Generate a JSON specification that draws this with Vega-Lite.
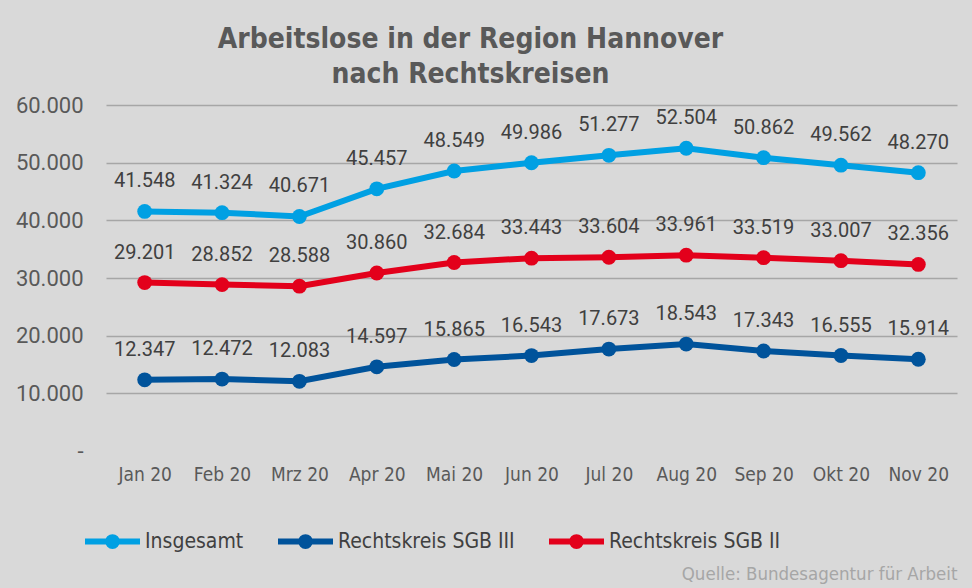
{
  "$schema": "https://vega.github.io/schema/vega-lite/v6.json",
  "width": 851,
  "height": 346,
  "autosize": {"type": "none"},
  "padding": {"left": 106, "top": 105, "right": 15, "bottom": 137},
  "background": "#d9d9d9",
  "config": {
    "view": {"stroke": null},
    "locale": {"number": {"decimal": ",", "thousands": ".", "grouping": [3], "currency": ["", " €"]}}
  },
  "title": {
    "text": ["Arbeitslose in der Region Hannover", "nach Rechtskreisen"],
    "font": "'DejaVu Sans Condensed', 'Liberation Sans', sans-serif",
    "fontSize": 28,
    "fontWeight": "bold",
    "color": "#595959",
    "anchor": "middle",
    "dx": -61,
    "offset": 5,
    "lineHeight": 35
  },
  "data": {"values": [
    {"monat": "Jan 20", "reihe": "Insgesamt", "wert": 41548},
    {"monat": "Feb 20", "reihe": "Insgesamt", "wert": 41324},
    {"monat": "Mrz 20", "reihe": "Insgesamt", "wert": 40671},
    {"monat": "Apr 20", "reihe": "Insgesamt", "wert": 45457},
    {"monat": "Mai 20", "reihe": "Insgesamt", "wert": 48549},
    {"monat": "Jun 20", "reihe": "Insgesamt", "wert": 49986},
    {"monat": "Jul 20", "reihe": "Insgesamt", "wert": 51277},
    {"monat": "Aug 20", "reihe": "Insgesamt", "wert": 52504},
    {"monat": "Sep 20", "reihe": "Insgesamt", "wert": 50862},
    {"monat": "Okt 20", "reihe": "Insgesamt", "wert": 49562},
    {"monat": "Nov 20", "reihe": "Insgesamt", "wert": 48270},
    {"monat": "Jan 20", "reihe": "Rechtskreis SGB III", "wert": 12347},
    {"monat": "Feb 20", "reihe": "Rechtskreis SGB III", "wert": 12472},
    {"monat": "Mrz 20", "reihe": "Rechtskreis SGB III", "wert": 12083},
    {"monat": "Apr 20", "reihe": "Rechtskreis SGB III", "wert": 14597},
    {"monat": "Mai 20", "reihe": "Rechtskreis SGB III", "wert": 15865},
    {"monat": "Jun 20", "reihe": "Rechtskreis SGB III", "wert": 16543},
    {"monat": "Jul 20", "reihe": "Rechtskreis SGB III", "wert": 17673},
    {"monat": "Aug 20", "reihe": "Rechtskreis SGB III", "wert": 18543},
    {"monat": "Sep 20", "reihe": "Rechtskreis SGB III", "wert": 17343},
    {"monat": "Okt 20", "reihe": "Rechtskreis SGB III", "wert": 16555},
    {"monat": "Nov 20", "reihe": "Rechtskreis SGB III", "wert": 15914},
    {"monat": "Jan 20", "reihe": "Rechtskreis SGB II", "wert": 29201},
    {"monat": "Feb 20", "reihe": "Rechtskreis SGB II", "wert": 28852},
    {"monat": "Mrz 20", "reihe": "Rechtskreis SGB II", "wert": 28588},
    {"monat": "Apr 20", "reihe": "Rechtskreis SGB II", "wert": 30860},
    {"monat": "Mai 20", "reihe": "Rechtskreis SGB II", "wert": 32684},
    {"monat": "Jun 20", "reihe": "Rechtskreis SGB II", "wert": 33443},
    {"monat": "Jul 20", "reihe": "Rechtskreis SGB II", "wert": 33604},
    {"monat": "Aug 20", "reihe": "Rechtskreis SGB II", "wert": 33961},
    {"monat": "Sep 20", "reihe": "Rechtskreis SGB II", "wert": 33519},
    {"monat": "Okt 20", "reihe": "Rechtskreis SGB II", "wert": 33007},
    {"monat": "Nov 20", "reihe": "Rechtskreis SGB II", "wert": 32356}
  ]},
  "encoding": {
    "x": {
      "field": "monat",
      "type": "ordinal",
      "sort": ["Jan 20", "Feb 20", "Mrz 20", "Apr 20", "Mai 20", "Jun 20", "Jul 20", "Aug 20", "Sep 20", "Okt 20", "Nov 20"],
      "scale": {"type": "point", "padding": 0.5},
      "axis": {
        "title": "Quelle: Bundesagentur für Arbeit",
        "titleFont": "'DejaVu Sans Condensed', 'Liberation Sans', sans-serif",
        "titleFontSize": 18.5,
        "titleFontWeight": "normal",
        "titleColor": "#a6a6a6",
        "titleAnchor": "end",
        "titleAlign": "right",
        "titleX": 851,
        "titleY": 122,
        "titleBaseline": "middle",
        "labelAngle": 0,
        "domain": false,
        "ticks": false,
        "grid": false,
        "labelFont": "'DejaVu Sans Condensed', 'Liberation Sans', sans-serif",
        "labelFontSize": 19,
        "labelColor": "#595959",
        "labelPadding": 14
      }
    },
    "y": {
      "field": "wert",
      "type": "quantitative",
      "scale": {"domain": [0, 60000], "nice": false},
      "axis": {
        "title": null,
        "values": [0, 10000, 20000, 30000, 40000, 50000, 60000],
        "labelExpr": "datum.value == 0 ? '-' : format(datum.value, ',d')",
        "domain": false,
        "ticks": false,
        "gridColor": "#a6a6a6",
        "gridWidth": 1.5,
        "gridOpacity": {"condition": {"test": "datum.value == 0", "value": 0}, "value": 1},
        "labelFont": "Roboto",
        "labelFontSize": 22,
        "labelColor": "#595959",
        "labelPadding": 23
      }
    },
    "color": {
      "field": "reihe",
      "type": "nominal",
      "sort": ["Insgesamt", "Rechtskreis SGB III", "Rechtskreis SGB II"],
      "scale": {"domain": ["Insgesamt", "Rechtskreis SGB III", "Rechtskreis SGB II"], "range": ["#00a0e3", "#00539b", "#e3001b"]},
      "legend": {
        "orient": "none",
        "legendX": -24,
        "legendY": 406,
        "direction": "horizontal",
        "title": null,
        "symbolType": "M-1,0H1M0.16,0A0.16,0.16 0 1,1 -0.16,0A0.16,0.16 0 1,1 0.16,0Z",
        "symbolSize": 3025,
        "symbolStrokeWidth": 6,
        "labelFont": "'DejaVu Sans Condensed', 'Liberation Sans', sans-serif",
        "labelFontSize": 21,
        "labelColor": "#404040",
        "labelOffset": 2,
        "columnPadding": 22,
        "labelLimit": 400
      }
    }
  },
  "layer": [
    {"mark": {"type": "line", "strokeWidth": 6}},
    {"mark": {"type": "point", "filled": true, "size": 220, "opacity": 1}},
    {
      "mark": {"type": "text", "dy": -30, "fontSize": 20, "font": "Roboto", "baseline": "middle"},
      "encoding": {
        "text": {"field": "wert", "type": "quantitative", "format": ",d"},
        "color": {"value": "#404040"}
      }
    }
  ]
}
